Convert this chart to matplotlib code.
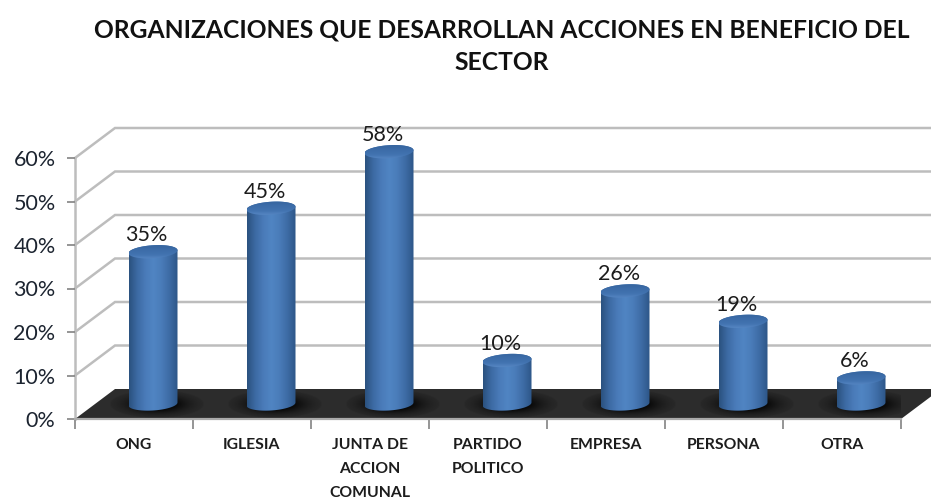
import numpy as np
import matplotlib
matplotlib.use('Agg')
import matplotlib.pyplot as plt
from matplotlib.colors import LinearSegmentedColormap
from matplotlib.patches import Polygon, PathPatch
from matplotlib.path import Path
from matplotlib.ticker import PercentFormatter

categories = ['ONG', 'IGLESIA', 'JUNTA DE\nACCION\nCOMUNAL', 'PARTIDO\nPOLITICO',
              'EMPRESA', 'PERSONA', 'OTRA']
values = [35, 45, 58, 10, 26, 19, 6]
y_ticks = [0, 10, 20, 30, 40, 50, 60]

# Depth of the fake 3D box, in data units (category / percent)
DEPTH_X = 40 / 118
DEPTH_Y = 30 / 4.35
BAR_DX = 19 / 118
BAR_DY = 15 / 4.35
BAR_A = 24.5 / 118
BAR_B = 6.5 / 4.35
BAR_TILT = 1.5 / 4.35
Y_TOP = 70

plt.rcParams['font.family'] = ['Lato', 'DejaVu Sans']

fig = plt.figure(figsize=(9.31, 5), dpi=100)
ax = fig.add_axes([75 / 931, 1 - 419 / 500, 826 / 931, Y_TOP * 4.35 / 500])
ax.set_xlim(0, 7)
ax.set_ylim(0, Y_TOP)
for s in ax.spines.values():
    s.set_visible(False)
ax.patch.set_visible(False)

GRID = '#bdbdbd'
for v in y_ticks[1:]:
    ax.plot([0, DEPTH_X, 7 + DEPTH_X], [v, v + DEPTH_Y, v + DEPTH_Y], color=GRID, lw=1.8,
            clip_on=False, zorder=1, solid_joinstyle='miter')
ax.plot([0, 0], [0, 60], color=GRID, lw=1.8, clip_on=False, zorder=1)

# dark floor
floor = Polygon([[0, 0], [7, 0], [7 + DEPTH_X, DEPTH_Y], [DEPTH_X, DEPTH_Y]],
                closed=True, fc='#2c2c2c', ec='none', clip_on=False, zorder=2)
ax.add_patch(floor)
ax.plot([0, 7], [0, 0], color='#aaaaaa', lw=1.6, clip_on=False, zorder=2.5)

body_cmap = LinearSegmentedColormap.from_list('body', ['#2b517f', '#3c6aa3', '#4a7bb9', '#5085c3',
                                                       '#4a7cb9', '#3d6ba4', '#2d5688'])
top_cmap = LinearSegmentedColormap.from_list('top', ['#35639c', '#3c6ca8', '#4273b0', '#5a8ac6'])
grad = np.linspace(0, 1, 128).reshape(1, -1)
grad_v = np.linspace(0, 1, 64).reshape(-1, 1)

# soft black blob used as the shadow under each cylinder
gx, gy = np.meshgrid(np.linspace(-1, 1, 120), np.linspace(-1, 1, 60))
blob = np.zeros((60, 120, 4))
blob[..., 3] = np.clip(1.25 * np.exp(-2.6 * (gx ** 2 + gy ** 2)), 0, 1) * (gx ** 2 + gy ** 2 < 1)


def ellipse_xy(cx, cy, t):
    return cx + BAR_A * np.cos(t), cy + BAR_B * np.sin(t) + BAR_TILT * np.cos(t)


for i, v in enumerate(values):
    cx = i + 0.5 + BAR_DX
    base = BAR_DY
    top = base + v

    sh = ax.imshow(blob, aspect='auto', zorder=3, interpolation='bilinear',
                   extent=[cx - 1.9 * BAR_A + 0.03, cx + 1.9 * BAR_A + 0.03, base - 3.2, base + 3.2])
    sh.set_clip_path(floor)

    t_low = np.linspace(np.pi, 2 * np.pi, 60)
    t_up = np.linspace(0, np.pi, 60)
    xb, yb = ellipse_xy(cx, base, t_low)
    xt, yt = ellipse_xy(cx, top, t_up)
    verts = np.column_stack([np.r_[xb, xt], np.r_[yb, yt]])
    path = Path(np.r_[verts, verts[:1]], closed=False)

    im = ax.imshow(grad, cmap=body_cmap, aspect='auto', zorder=4,
                   extent=[cx - BAR_A, cx + BAR_A, base - 3, top + 3])
    clip = PathPatch(path, transform=ax.transData, fc='none', ec='none')
    ax.add_patch(clip)
    im.set_clip_path(clip)

    # lid
    t = np.linspace(0, 2 * np.pi, 120)
    xl, yl = ellipse_xy(cx, top, t)
    lid_path = Path(np.column_stack([xl, yl]), closed=False)
    lid = ax.imshow(grad_v, cmap=top_cmap, aspect='auto', zorder=5,
                    extent=[cx - BAR_A, cx + BAR_A, top - 1.8, top + 1.8])
    lid_clip = PathPatch(lid_path, transform=ax.transData, fc='none', ec='none')
    ax.add_patch(lid_clip)
    lid.set_clip_path(lid_clip)

    ax.annotate(f'{v}%', (cx, top), xytext=(-4.5, 12), textcoords='offset points',
                ha='center', va='center', fontsize=15.5, color='#1c1c1c', zorder=6,
                annotation_clip=False)

ax.set_xlim(0, 7)
ax.set_ylim(0, Y_TOP)

ax.set_yticks(y_ticks)
ax.yaxis.set_major_formatter(PercentFormatter(decimals=0))
ax.tick_params(axis='y', length=6, width=1.3, color='#8c8c8c', labelsize=15.5,
               labelcolor='#1c2430', pad=8)
ax.set_xticks(np.arange(0, 8))
ax.set_xticklabels([])
ax.tick_params(axis='x', length=7, width=1.3, color='#8c8c8c')
ax.set_xticks(np.arange(7) + 0.5, minor=True)
ax.set_xticklabels(categories, minor=True, fontsize=11.3, fontweight='bold', color='#1c1c1c',
                   linespacing=1.88)
ax.tick_params(axis='x', which='minor', length=0, pad=14)

fig.text(502 / 931, 1 - 30 / 500, 'ORGANIZACIONES QUE DESARROLLAN ACCIONES EN BENEFICIO DEL',
         ha='center', va='center', fontsize=17.75, fontweight='bold', color='#111111')
fig.text(502 / 931, 1 - 62 / 500, 'SECTOR',
         ha='center', va='center', fontsize=17.75, fontweight='bold', color='#111111')

fig.savefig('out.png', dpi=100)
